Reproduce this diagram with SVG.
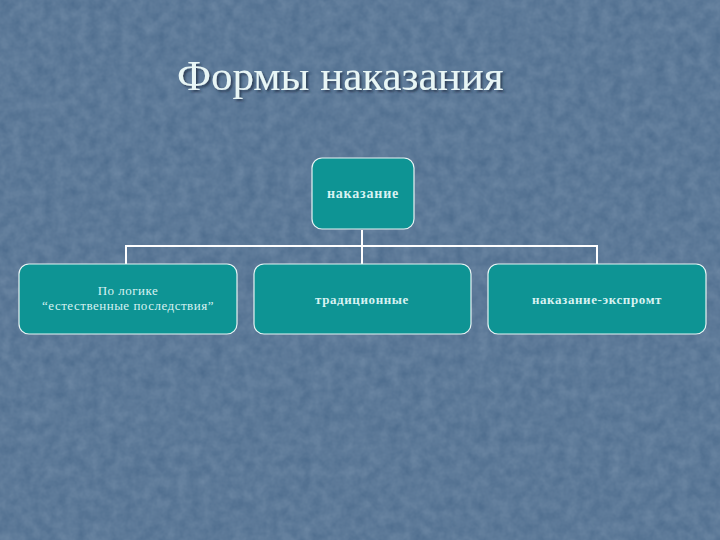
<svg xmlns="http://www.w3.org/2000/svg" width="720" height="540" viewBox="0 0 720 540">
  <defs>
    <filter id="tex" x="0" y="0" width="100%" height="100%">
      <feTurbulence type="fractalNoise" baseFrequency="0.09" numOctaves="3" seed="4" result="n"/>
      <feColorMatrix in="n" type="matrix" values="0 0 0 0 0.5  0 0 0 0 0.6  0 0 0 0 0.72  0 0 0 0.3 0"/>
      <feComposite in2="SourceGraphic" operator="in"/>
    </filter>
    <filter id="shadow" x="-10%" y="-20%" width="120%" height="140%">
      <feDropShadow dx="2" dy="2" stdDeviation="1" flood-color="#1a2a40" flood-opacity="0.7"/>
    </filter>
  </defs>
  <style>
    .box { fill: #0e9494; stroke: #e6f4f4; stroke-width: 1.2; }
    .lbl { font-family: "Liberation Serif", "DejaVu Serif", serif; font-size: 13px; fill: #d8f2f2; text-anchor: middle; }
    .b { font-weight: bold; letter-spacing: 0.6px; }
    .n { letter-spacing: 0.5px; }
    .conn { fill: none; stroke: #ffffff; stroke-width: 2; }
    .title { font-family: "Liberation Serif", "DejaVu Serif", serif; font-size: 43px; fill: #e8f6f6; }
  </style>
  <rect x="0" y="0" width="720" height="540" fill="#4c6b8c"/>
  <rect x="0" y="0" width="720" height="540" fill="#4c6b8c" filter="url(#tex)"/>
  <text class="title" x="177" y="90" filter="url(#shadow)">Формы наказания</text>
  <g id="connectors">
    <path class="conn" d="M362,230 V246 M126,264 V246 H597 V264 M362,246 V264"/>
  </g>
  <g id="node-root">
    <rect class="box" x="312" y="158" width="102" height="71" rx="10"/>
    <text class="lbl b" x="363" y="198" style="font-size:14px;letter-spacing:0.8px">наказание</text>
  </g>
  <g id="node-logic">
    <rect class="box" x="19" y="264" width="218" height="70" rx="10"/>
    <text class="lbl n" x="128" y="295">По логике</text>
    <text class="lbl n" x="128" y="310">“естественные последствия”</text>
  </g>
  <g id="node-traditional">
    <rect class="box" x="254" y="264" width="217" height="70" rx="10"/>
    <text class="lbl b" x="362" y="304">традиционные</text>
  </g>
  <g id="node-impromptu">
    <rect class="box" x="488" y="264" width="218" height="70" rx="10"/>
    <text class="lbl b" x="597" y="304">наказание-экспромт</text>
  </g>
</svg>
